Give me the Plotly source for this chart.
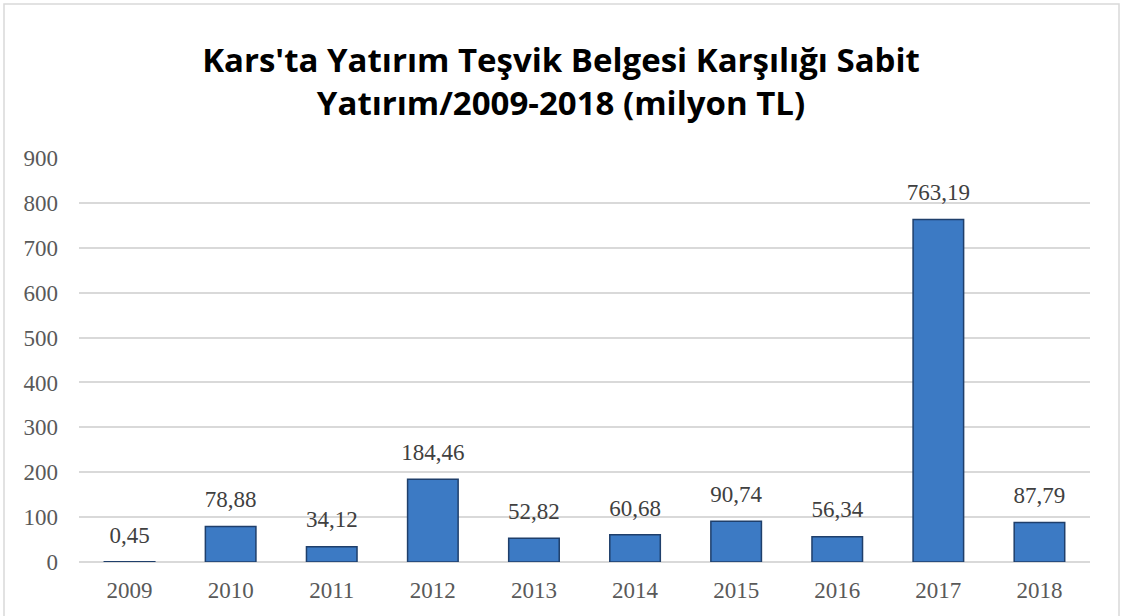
import plotly.graph_objects as go

years = ["2009", "2010", "2011", "2012", "2013", "2014", "2015", "2016", "2017", "2018"]
values = [0.45, 78.88, 34.12, 184.46, 52.82, 60.68, 90.74, 56.34, 763.19, 87.79]
labels = ["0,45", "78,88", "34,12", "184,46", "52,82", "60,68", "90,74", "56,34", "763,19", "87,79"]
y_ticks = [0, 100, 200, 300, 400, 500, 600, 700, 800, 900]

title_text = "Kars'ta Yatırım Teşvik Belgesi Karşılığı Sabit<br>Yatırım/2009-2018 (milyon TL)"

serif = "Liberation Serif, Times New Roman, serif"

fig = go.Figure()
fig.add_trace(go.Bar(
    x=years, y=values,
    marker=dict(color="#3C7AC4", line=dict(color="#1F3F6B", width=1.5)),
    width=0.5, hoverinfo="skip",
))
fig.add_trace(go.Scatter(
    x=years, y=values, text=labels, mode="markers+text", textposition="top center",
    textfont=dict(family=serif, size=23, color="#404040"),
    marker=dict(size=20, opacity=0), cliponaxis=False, hoverinfo="skip",
))

W, H = 1122, 616
L, R, T, B = 79, 32, 158, 54
pw, ph = W - L - R, H - T - B

def px_x(p):
    return (p - L) / pw

def px_y(p):
    return (H - B - p) / ph

fig.add_shape(type="rect", xref="paper", yref="paper",
              x0=px_x(4), x1=px_x(1119), y0=px_y(640), y1=px_y(4),
              line=dict(color="#D9D9D9", width=1.5), fillcolor="rgba(0,0,0,0)", layer="below")

fig.update_layout(
    width=W, height=H,
    margin=dict(l=L, r=R, t=T, b=B),
    paper_bgcolor="white", plot_bgcolor="white",
    showlegend=False,
    title=dict(text=title_text, x=0.5, xanchor="center", xref="container",
               y=1 - 72 / H, yanchor="middle", yref="container",
               font=dict(family="Open Sans, sans-serif", size=33, color="#000000", weight="bold")),
    xaxis=dict(type="category", range=[-0.5, len(years) - 0.5], showgrid=False, showline=False, ticks="",
               tickfont=dict(family=serif, size=23, color="#595959"), ticklabelstandoff=12),
    yaxis=dict(range=[0, 900], tickvals=y_ticks, showgrid=True, gridcolor="#D9D9D9", gridwidth=1.5,
               zeroline=True, zerolinecolor="#D9D9D9", zerolinewidth=1.5, showline=False, ticks="",
               tickfont=dict(family=serif, size=23, color="#595959"), ticklabelstandoff=20),
    bargap=0.5,
)

fig.write_html("out.html", config={"displayModeBar": False},
               post_script="document.body.style.margin='0';document.body.style.overflow='hidden';")
